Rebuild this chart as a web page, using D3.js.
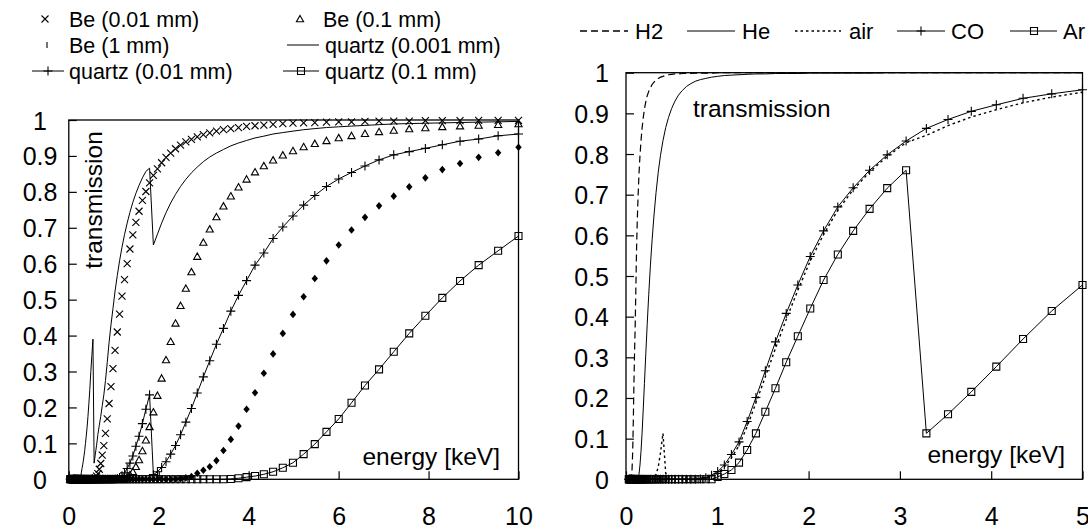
<!DOCTYPE html>
<html>
<head>
<meta charset="utf-8">
<script src="https://cdn.jsdelivr.net/npm/d3@7"></script>
<style>
body { margin: 0; background: #fff; }
text { font-family: "Liberation Sans", Arial, sans-serif; fill: #000; }
</style>
</head>
<body>
<svg id="chart" width="1088" height="529"></svg>
<script>
// Left panel: photon energies [keV] shared by all filter series.
var energyL = [
  0.03, 0.045, 0.06, 0.075, 0.09, 0.101, 0.106, 0.111, 0.116, 0.122,
  0.127, 0.133, 0.140, 0.146, 0.153, 0.161, 0.168, 0.176, 0.185, 0.193,
  0.203, 0.212, 0.222, 0.233, 0.244, 0.256, 0.268, 0.280, 0.294, 0.308,
  0.322, 0.338, 0.354, 0.371, 0.388, 0.407, 0.426, 0.446, 0.467, 0.490,
  0.513, 0.537, 0.563, 0.590, 0.618, 0.647, 0.678, 0.710, 0.744, 0.779,
  0.816, 0.855, 0.895, 0.938, 0.982, 1.029, 1.078, 1.129, 1.183, 1.239,
  1.298, 1.359, 1.424, 1.492, 1.562, 1.637, 1.714, 1.796, 1.881, 1.971,
  2.064, 2.162, 2.265, 2.373, 2.485, 2.603, 2.727, 2.857, 2.992, 3.134,
  3.283, 3.439, 3.603, 3.774, 3.953, 4.141, 4.337, 4.543, 4.759, 4.985,
  5.222, 5.470, 5.730, 6.002, 6.287, 6.586, 6.899, 7.226, 7.570, 7.929,
  8.306, 8.700, 9.114, 9.547, 10.0];

// Transmission of each filter at energyL.
var be001 = [
  0, 0, 0, 0, 0, 0, 0, 0, 0, 0,
  0, 0, 0, 0, 0, 0, 0, 0, 0, 0,
  0, 0, 0, 0, 0, 0, 0, 0, 0, 0,
  0, 0, 0, 0, 0, 0, 0, 0, 0, 0,
  0, 0, 0.002, 0.004, 0.009, 0.016, 0.028, 0.044, 0.067, 0.094,
  0.128, 0.168, 0.211, 0.258, 0.308, 0.359, 0.410, 0.460, 0.510, 0.556,
  0.600, 0.641, 0.680, 0.715, 0.746, 0.776, 0.801, 0.825, 0.846, 0.864,
  0.881, 0.896, 0.908, 0.920, 0.930, 0.939, 0.946, 0.953, 0.959, 0.964,
  0.969, 0.973, 0.976, 0.979, 0.982, 0.984, 0.986, 0.988, 0.990, 0.991,
  0.992, 0.993, 0.994, 0.995, 0.995, 0.996, 0.997, 0.997, 0.997, 0.998,
  0.998, 0.998, 0.999, 0.999, 0.999];
var be01 = [
  0, 0, 0, 0, 0, 0, 0, 0, 0, 0,
  0, 0, 0, 0, 0, 0, 0, 0, 0, 0,
  0, 0, 0, 0, 0, 0, 0, 0, 0, 0,
  0, 0, 0, 0, 0, 0, 0, 0, 0, 0,
  0, 0, 0, 0, 0, 0, 0, 0, 0, 0,
  0, 0, 0, 0, 0, 0, 0, 0, 0.001, 0.003,
  0.006, 0.012, 0.021, 0.035, 0.054, 0.079, 0.109, 0.146, 0.187, 0.233,
  0.281, 0.332, 0.383, 0.434, 0.483, 0.531, 0.577, 0.620, 0.659, 0.696,
  0.730, 0.760, 0.788, 0.813, 0.835, 0.855, 0.872, 0.888, 0.902, 0.914,
  0.925, 0.934, 0.942, 0.950, 0.956, 0.962, 0.967, 0.971, 0.975, 0.978,
  0.981, 0.983, 0.985, 0.987, 0.989];
var be1 = [
  0, 0, 0, 0, 0, 0, 0, 0, 0, 0,
  0, 0, 0, 0, 0, 0, 0, 0, 0, 0,
  0, 0, 0, 0, 0, 0, 0, 0, 0, 0,
  0, 0, 0, 0, 0, 0, 0, 0, 0, 0,
  0, 0, 0, 0, 0, 0, 0, 0, 0, 0,
  0, 0, 0, 0, 0, 0, 0, 0, 0, 0,
  0, 0, 0, 0, 0, 0, 0, 0, 0, 0,
  0, 0, 0, 0.001, 0.002, 0.004, 0.008, 0.017, 0.025, 0.035,
  0.052, 0.080, 0.111, 0.148, 0.195, 0.241, 0.295, 0.349, 0.406, 0.459,
  0.508, 0.559, 0.608, 0.652, 0.694, 0.729, 0.761, 0.788, 0.814, 0.839,
  0.862, 0.879, 0.896, 0.909, 0.924];
var quartz0001 = [
  0, 0, 0, 0, 0, 0, 0, 0, 0, 0,
  0, 0, 0, 0, 0, 0, 0, 0, 0, 0,
  0, 0, 0, 0, 0, 0.003, 0.008, 0.020, 0.030, 0.040,
  0.050, 0.065, 0.080, 0.100, 0.120, 0.145, 0.175, 0.210, 0.250, 0.300,
  0.345, 0.390, 0.045, 0.070, 0.095, 0.125, 0.150, 0.175, 0.205, 0.235,
  0.275, 0.325, 0.380, 0.430, 0.475, 0.524, 0.567, 0.608, 0.646, 0.681,
  0.713, 0.743, 0.771, 0.796, 0.818, 0.839, 0.857, 0.866, 0.652, 0.682,
  0.713, 0.742, 0.769, 0.793, 0.815, 0.835, 0.853, 0.869, 0.884, 0.897,
  0.908, 0.918, 0.928, 0.936, 0.943, 0.950, 0.955, 0.961, 0.965, 0.969,
  0.973, 0.976, 0.979, 0.981, 0.983, 0.985, 0.987, 0.989, 0.990, 0.991,
  0.992, 0.993, 0.994, 0.995, 0.996];
var quartz001 = [
  0, 0, 0, 0, 0, 0, 0, 0, 0, 0,
  0, 0, 0, 0, 0, 0, 0, 0, 0, 0,
  0, 0, 0, 0, 0, 0, 0, 0, 0, 0,
  0, 0, 0, 0, 0, 0, 0, 0, 0, 0,
  0, 0, 0, 0, 0, 0, 0, 0, 0, 0,
  0, 0, 0, 0, 0, 0.001, 0.002, 0.005, 0.010, 0.018,
  0.030, 0.045, 0.065, 0.092, 0.120, 0.155, 0.195, 0.235, 0.013, 0.021,
  0.033, 0.049, 0.070, 0.094, 0.124, 0.159, 0.197, 0.240, 0.285, 0.330,
  0.376, 0.420, 0.468, 0.512, 0.553, 0.596, 0.630, 0.670, 0.702, 0.733,
  0.763, 0.790, 0.815, 0.836, 0.854, 0.872, 0.889, 0.903, 0.912, 0.921,
  0.931, 0.941, 0.947, 0.956, 0.961];
var quartz01 = [
  0, 0, 0, 0, 0, 0, 0, 0, 0, 0,
  0, 0, 0, 0, 0, 0, 0, 0, 0, 0,
  0, 0, 0, 0, 0, 0, 0, 0, 0, 0,
  0, 0, 0, 0, 0, 0, 0, 0, 0, 0,
  0, 0, 0, 0, 0, 0, 0, 0, 0, 0,
  0, 0, 0, 0, 0, 0, 0, 0, 0, 0,
  0, 0, 0, 0, 0, 0, 0, 0, 0, 0,
  0, 0, 0, 0, 0, 0, 0, 0, 0, 0,
  0, 0, 0.001, 0.003, 0.006, 0.009, 0.014, 0.021, 0.032, 0.046,
  0.070, 0.098, 0.132, 0.168, 0.213, 0.261, 0.306, 0.355, 0.406, 0.455,
  0.505, 0.552, 0.596, 0.636, 0.677];

// Right panel: photon energies [keV] shared by all gas series.
var energyR = [
  0.0307, 0.0329, 0.0353, 0.0378, 0.0405, 0.0435, 0.0466, 0.0500, 0.0536, 0.0575,
  0.0616, 0.0661, 0.0709, 0.0760, 0.0813, 0.0872, 0.0935, 0.100, 0.108, 0.116,
  0.124, 0.133, 0.142, 0.153, 0.164, 0.176, 0.188, 0.202, 0.217, 0.232,
  0.249, 0.267, 0.286, 0.307, 0.329, 0.353, 0.378, 0.405, 0.435, 0.466,
  0.500, 0.536, 0.575, 0.616, 0.661, 0.709, 0.760, 0.815, 0.874, 0.937,
  1.004, 1.077, 1.155, 1.238, 1.327, 1.423, 1.526, 1.637, 1.755, 1.882,
  2.018, 2.164, 2.320, 2.488, 2.668, 2.861, 3.068, 3.290, 3.527, 3.782,
  4.056, 4.349, 4.663, 5.000];
var h2 = [
  0, 0, 0, 0, 0, 0, 0, 0, 0, 0.003,
  0.009, 0.024, 0.052, 0.095, 0.160, 0.240, 0.310, 0.370, 0.470, 0.570,
  0.640, 0.700, 0.750, 0.795, 0.832, 0.863, 0.888, 0.911, 0.929, 0.943,
  0.954, 0.963, 0.971, 0.977, 0.982, 0.986, 0.989, 0.991, 0.993, 0.995,
  0.996, 0.997, 0.997, 0.998, 0.998, 0.998, 0.999, 0.999, 0.999, 0.999,
  1, 1, 1, 1, 1, 1, 1, 1, 1, 1,
  1, 1, 1, 1, 1, 1, 1, 1, 1, 1,
  1, 1, 1, 1];
var he = [
  0, 0, 0, 0, 0, 0, 0, 0, 0, 0,
  0, 0, 0, 0, 0, 0, 0, 0, 0, 0,
  0, 0.003, 0.012, 0.035, 0.068, 0.113, 0.168, 0.236, 0.309, 0.380,
  0.454, 0.525, 0.589, 0.650, 0.705, 0.755, 0.797, 0.833, 0.865, 0.890,
  0.912, 0.930, 0.945, 0.956, 0.966, 0.973, 0.979, 0.983, 0.986, 0.989,
  0.991, 0.993, 0.994, 0.995, 0.996, 0.997, 0.997, 0.998, 0.998, 0.998,
  0.999, 0.999, 0.999, 0.999, 0.999, 1, 1, 1, 1, 1,
  1, 1, 1, 1];
var air = [
  0, 0, 0, 0, 0, 0, 0, 0, 0, 0,
  0, 0, 0, 0, 0, 0, 0, 0, 0, 0,
  0, 0, 0, 0, 0, 0, 0, 0, 0, 0,
  0, 0, 0, 0.005, 0.012, 0.030, 0.065, 0.113, 0.015, 0.003,
  0, 0, 0, 0, 0, 0, 0, 0.001, 0.003, 0.008,
  0.015, 0.030, 0.053, 0.083, 0.130, 0.188, 0.252, 0.322, 0.393, 0.465,
  0.537, 0.602, 0.662, 0.712, 0.756, 0.794, 0.828, 0.846, 0.870, 0.891,
  0.909, 0.926, 0.940, 0.952];
var co = [
  0, 0, 0, 0, 0, 0, 0, 0, 0, 0,
  0, 0, 0, 0, 0, 0, 0, 0, 0, 0,
  0, 0, 0, 0, 0, 0, 0, 0, 0, 0,
  0, 0, 0, 0, 0, 0, 0, 0, 0, 0,
  0, 0, 0, 0, 0, 0, 0, 0.001, 0.004, 0.010,
  0.019, 0.035, 0.061, 0.092, 0.142, 0.201, 0.267, 0.338, 0.408, 0.478,
  0.548, 0.611, 0.670, 0.717, 0.760, 0.798, 0.832, 0.863, 0.885, 0.905,
  0.921, 0.937, 0.948, 0.958];
var ar = [
  0, 0, 0, 0, 0, 0, 0, 0, 0, 0,
  0, 0, 0, 0, 0, 0, 0, 0, 0, 0,
  0, 0, 0, 0, 0, 0, 0, 0, 0, 0,
  0, 0, 0, 0, 0, 0, 0, 0, 0, 0,
  0, 0, 0, 0, 0, 0, 0, 0, 0, 0,
  0.006, 0.013, 0.023, 0.041, 0.072, 0.113, 0.166, 0.224, 0.288, 0.352,
  0.420, 0.490, 0.553, 0.611, 0.665, 0.716, 0.760, 0.113, 0.160, 0.215,
  0.277, 0.345, 0.414, 0.478];

// Tick values and labels.
var xTicksL = [0, 2, 4, 6, 8, 10];
var xTicksR = [0, 1, 2, 3, 4, 5];
var yTicks = [0, 0.1, 0.2, 0.3, 0.4, 0.5, 0.6, 0.7, 0.8, 0.9, 1];
var yTickLabels = ['0', '0.1', '0.2', '0.3', '0.4', '0.5', '0.6', '0.7', '0.8', '0.9', '1'];

// Marker shapes.
var marks = {
  cross: 'M-3.5,-3.5L3.5,3.5M-3.5,3.5L3.5,-3.5',
  plus: 'M-4.5,0H4.5M0,-4.5V4.5',
  triangle: 'M0,-3.6L3.6,2.8H-3.6Z',
  square: 'M-3.5,-3.5H3.5V3.5H-3.5Z',
  diamond: 'M0,-3.8L3.2,0L0,3.8L-3.2,0Z',
  tick: 'M0,-3V3'
};

var svg = d3.select('#chart');

// Scales of both panels.
var xL = d3.scaleLinear().domain([0, 10]).range([68.8, 518.5]);
var yL = d3.scaleLinear().domain([0, 1]).range([479.3, 120]);
var xR = d3.scaleLinear().domain([0, 5]).range([626, 1082.5]);
var yR = d3.scaleLinear().domain([0, 1]).range([479.3, 72.7]);

function drawAxes(x, y, xTicks, yLabelX, yAnchor) {
  var g = svg.append('g');
  // Bottom axis, ticks pointing inwards.
  g.append('g')
    .attr('transform', 'translate(0,' + y(0) + ')')
    .call(d3.axisBottom(x).tickValues(xTicks).tickSize(-8).tickSizeOuter(0).tickFormat(d3.format('d')))
    .call(function (a) { a.select('.domain').remove(); })
    .call(function (a) {
      a.selectAll('line').attr('stroke', '#000').attr('stroke-width', 1.2);
      a.selectAll('text').attr('y', 45.5).attr('dy', null)
        .style('font-size', '25px').style('font-family', '"Liberation Sans", Arial, sans-serif');
    });
  // Left axis.
  g.append('g')
    .attr('transform', 'translate(' + x(0) + ',0)')
    .call(d3.axisLeft(y).tickValues(yTicks).tickSize(-8).tickSizeOuter(0)
      .tickFormat(function (d, i) { return yTickLabels[i]; }))
    .call(function (a) { a.select('.domain').remove(); })
    .call(function (a) {
      a.selectAll('line').attr('stroke', '#000').attr('stroke-width', 1.2);
      a.selectAll('text').attr('x', yLabelX - x(0)).attr('dy', 9)
        .attr('text-anchor', yAnchor)
        .style('font-size', '25px').style('font-family', '"Liberation Sans", Arial, sans-serif');
    });
  // Frame.
  g.append('rect')
    .attr('x', x.range()[0]).attr('y', y(1))
    .attr('width', x.range()[1] - x.range()[0]).attr('height', y(0) - y(1))
    .attr('fill', 'none').attr('stroke', '#000').attr('stroke-width', 1.3);
}

function drawSeries(x, y, energy, values, s) {
  var pts = energy.map(function (e, i) { return [e, values[i]]; });
  if (s.line) {
    svg.append('path')
      .datum(pts)
      .attr('fill', 'none')
      .attr('stroke', '#000')
      .attr('stroke-width', s.width || 1)
      .attr('stroke-dasharray', s.dash || null)
      .attr('d', d3.line().x(function (d) { return x(d[0]); }).y(function (d) { return y(d[1]); }));
  }
  if (s.mark) {
    svg.append('g').selectAll('path')
      .data(pts)
      .enter()
      .append('path')
      .attr('transform', function (d) { return 'translate(' + x(d[0]) + ',' + y(d[1]) + ')'; })
      .attr('d', marks[s.mark])
      .attr('fill', s.mark == 'diamond' ? '#000' : 'none')
      .attr('stroke', s.mark == 'diamond' ? 'none' : '#000')
      .attr('stroke-width', 1.1);
  }
}

drawAxes(xL, yL, xTicksL, 40, 'middle');
drawAxes(xR, yR, xTicksR, 609, 'end');

// Left panel series.
drawSeries(xL, yL, energyL, quartz0001, {line: true});
drawSeries(xL, yL, energyL, quartz001, {line: true, mark: 'plus'});
drawSeries(xL, yL, energyL, quartz01, {line: true, mark: 'square'});
drawSeries(xL, yL, energyL, be001, {mark: 'cross'});
drawSeries(xL, yL, energyL, be01, {mark: 'triangle'});
drawSeries(xL, yL, energyL, be1, {mark: 'diamond'});

// Right panel series.
drawSeries(xR, yR, energyR, h2, {line: true, dash: '7,4', width: 1.2});
drawSeries(xR, yR, energyR, he, {line: true});
drawSeries(xR, yR, energyR, air, {line: true, dash: '2.5,3', width: 1.4});
drawSeries(xR, yR, energyR, co, {line: true, mark: 'plus'});
drawSeries(xR, yR, energyR, ar, {line: true, mark: 'square'});

// Axis titles.
svg.append('text')
  .attr('transform', 'translate(102,200) rotate(-90)')
  .attr('text-anchor', 'middle')
  .style('font-size', '24.5px')
  .text('transmission');
svg.append('text')
  .attr('x', 693).attr('y', 117)
  .style('font-size', '24.5px')
  .text('transmission');
svg.append('text')
  .attr('x', 500).attr('y', 465)
  .attr('text-anchor', 'end')
  .style('font-size', '24.5px')
  .text('energy [keV]');
svg.append('text')
  .attr('x', 1065).attr('y', 463)
  .attr('text-anchor', 'end')
  .style('font-size', '24.5px')
  .text('energy [keV]');

// Legends.
var legendL = [
  {label: 'Be (0.01 mm)', x: 69, y: 19, mark: 'cross', mx: 45},
  {label: 'Be (0.1 mm)', x: 323, y: 19, mark: 'triangle', mx: 300},
  {label: 'Be (1 mm)', x: 69, y: 45, mark: 'tick', mx: 47},
  {label: 'quartz (0.001 mm)', x: 325, y: 45, x1: 287, x2: 319},
  {label: 'quartz (0.01 mm)', x: 69, y: 71, mark: 'plus', mx: 48, x1: 32, x2: 64},
  {label: 'quartz (0.1 mm)', x: 325, y: 71, mark: 'square', mx: 301, x1: 283, x2: 319}
];
var legendR = [
  {label: 'H2', x: 635, y: 31, x1: 580, x2: 628, dash: '7,4'},
  {label: 'He', x: 742, y: 31, x1: 687, x2: 735},
  {label: 'air', x: 849, y: 31, x1: 795, x2: 841, dash: '2.5,3'},
  {label: 'CO', x: 951, y: 31, x1: 897, x2: 945, mark: 'plus', mx: 921},
  {label: 'Ar', x: 1063, y: 31, x1: 1010, x2: 1057, mark: 'square', mx: 1034}
];
legendL.forEach(function (d) { d.size = 21.5; });
legendR.forEach(function (d) { d.size = 22; });
legendL.concat(legendR).forEach(function (d) {
  var g = svg.append('g');
  if (d.x1 != null) {
    g.append('line')
      .attr('x1', d.x1).attr('x2', d.x2).attr('y1', d.y).attr('y2', d.y)
      .attr('stroke', '#000').attr('stroke-width', d.dash ? 1.3 : 1)
      .attr('stroke-dasharray', d.dash || null);
  }
  if (d.mark) {
    g.append('path')
      .attr('transform', 'translate(' + d.mx + ',' + d.y + ')')
      .attr('d', marks[d.mark])
      .attr('fill', 'none').attr('stroke', '#000').attr('stroke-width', 1.1);
  }
  g.append('text')
    .attr('x', d.x).attr('y', d.y + 8)
    .style('font-size', d.size + 'px')
    .text(d.label);
});
</script>
</body>
</html>
